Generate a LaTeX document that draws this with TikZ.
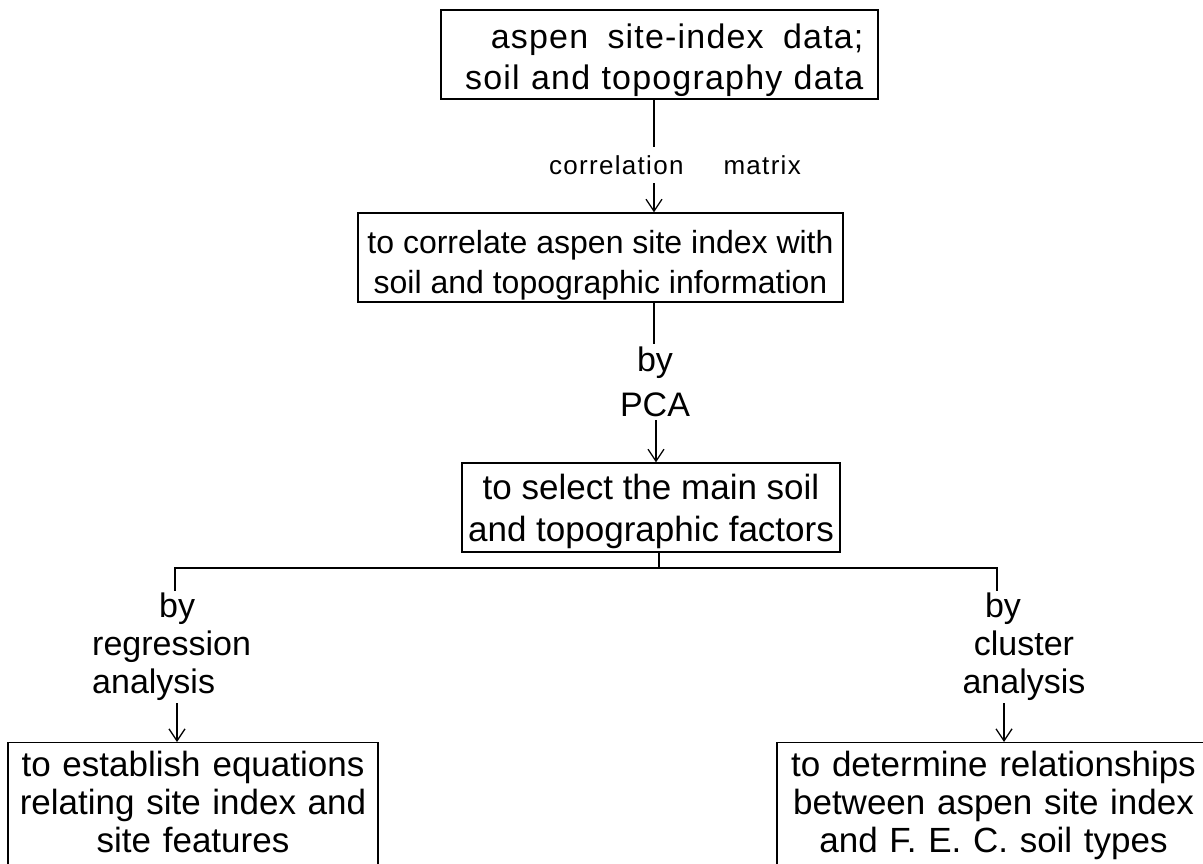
\documentclass[tikz,border=0pt]{standalone}
\usepackage{fontspec}
\setmainfont{Liberation Sans}
\newfontfamily\lsfonta[LetterSpace=3.5]{Liberation Sans}
\newfontfamily\lsfontb[LetterSpace=5]{Liberation Sans}
\usetikzlibrary{arrows.meta}
\tikzset{
  box/.style={draw, line width=1.3pt, inner sep=0pt},
  lab/.style={inner xsep=2pt, inner ysep=2pt},
  ln/.style={line width=1.3pt},
  arr/.style={line width=1.3pt, -{Straight Barb[length=12pt,width=16pt,line width=1.3pt]}},
}
\begin{document}
\begin{tikzpicture}[x=1pt,y=-1pt]
\useasboundingbox (0,0) rectangle (1203,863);
\fill[white] (0,0) rectangle (1203,863);
\clip (0,0) rectangle (1203,863);

% boxes
\node[box, minimum width=437pt, minimum height=89pt, text width=408pt, inner xsep=14.5pt,
      align=right, font=\lsfonta\fontsize{34}{41}\selectfont] (b1) at (659.5,54.5)
  {\rule{0pt}{36pt}aspen\hspace{8pt} site-index\hspace{8pt} data;\\soil and topography data};

\node[box, minimum width=485pt, minimum height=89pt, align=center,
      font=\fontsize{32}{40}\selectfont] (b2) at (600.5,257.5)
  {\rule{0pt}{39.5pt}to correlate aspen site index with\\soil and topographic information};

\node[box, minimum width=378pt, minimum height=89pt, align=center,
      font=\fontsize{35}{42}\selectfont] (b3) at (651,507.5)
  {\rule{0pt}{32.5pt}to select the main soil\\and topographic factors};

\node[box, anchor=north, minimum width=370pt, text width=360pt, inner xsep=5pt, inner ysep=8.5pt,
      text depth=150pt, align=center, font=\fontsize{35}{38}\selectfont] (b4) at (193,742)
  {to establish\hspace{12pt}equations\\relating site index and\\site features};

\node[box, anchor=north, minimum width=433pt, text width=420pt, inner xsep=6.5pt, inner ysep=8.5pt,
      text depth=150pt, align=center, font=\fontsize{35}{38}\selectfont] (b5) at (993.5,742)
  {to determine relationships\\between aspen site index\\and F. E. C. soil types};

% labels
\node[inner xsep=0pt, inner ysep=8.5pt, font=\lsfontb\fontsize{26}{30}\selectfont] (lbl1) at (675,165)
  {correlation\hspace{40pt}matrix};
\node[lab, inner ysep=3pt, align=center, font=\fontsize{34}{45}\selectfont] (lbl2) at (655,382)
  {by\\PCA};
\node[lab, anchor=north west, align=left, font=\fontsize{34}{38}\selectfont] (lbl3) at (90,591)
  {\hspace*{67pt}by\\regression\\analysis};
\node[lab, anchor=north, align=center, font=\fontsize{34}{38}\selectfont] (lbl4) at (1024,591)
  {by\hspace*{42pt}\\cluster\\analysis};

% connectors
\coordinate (xa) at (654,0);
\coordinate (xb) at (656,0);
\coordinate (jn) at (659,568);
\coordinate (jl) at (175,568);
\coordinate (jr) at (997,568);
\coordinate (xl) at (177,0);
\coordinate (xr) at (1004,0);

\draw[ln] (b1.south -| xa) -- (lbl1.north -| xa);
\draw[arr] (lbl1.south -| xa) -- (b2.north -| xa);
\draw[ln] (b2.south -| xa) -- (lbl2.north -| xa);
\draw[arr] (lbl2.south -| xb) -- (b3.north -| xb);
\draw[ln] (b3.south -| jn) -- (jn);
\draw[ln] (jl |- lbl3.north) -- (jl) -- (jr) -- (jr |- lbl4.north);
\draw[arr] (lbl3.south -| xl) -- (b4.north -| xl);
\draw[arr] (lbl4.south -| xr) -- (b5.north -| xr);
\end{tikzpicture}
\end{document}
